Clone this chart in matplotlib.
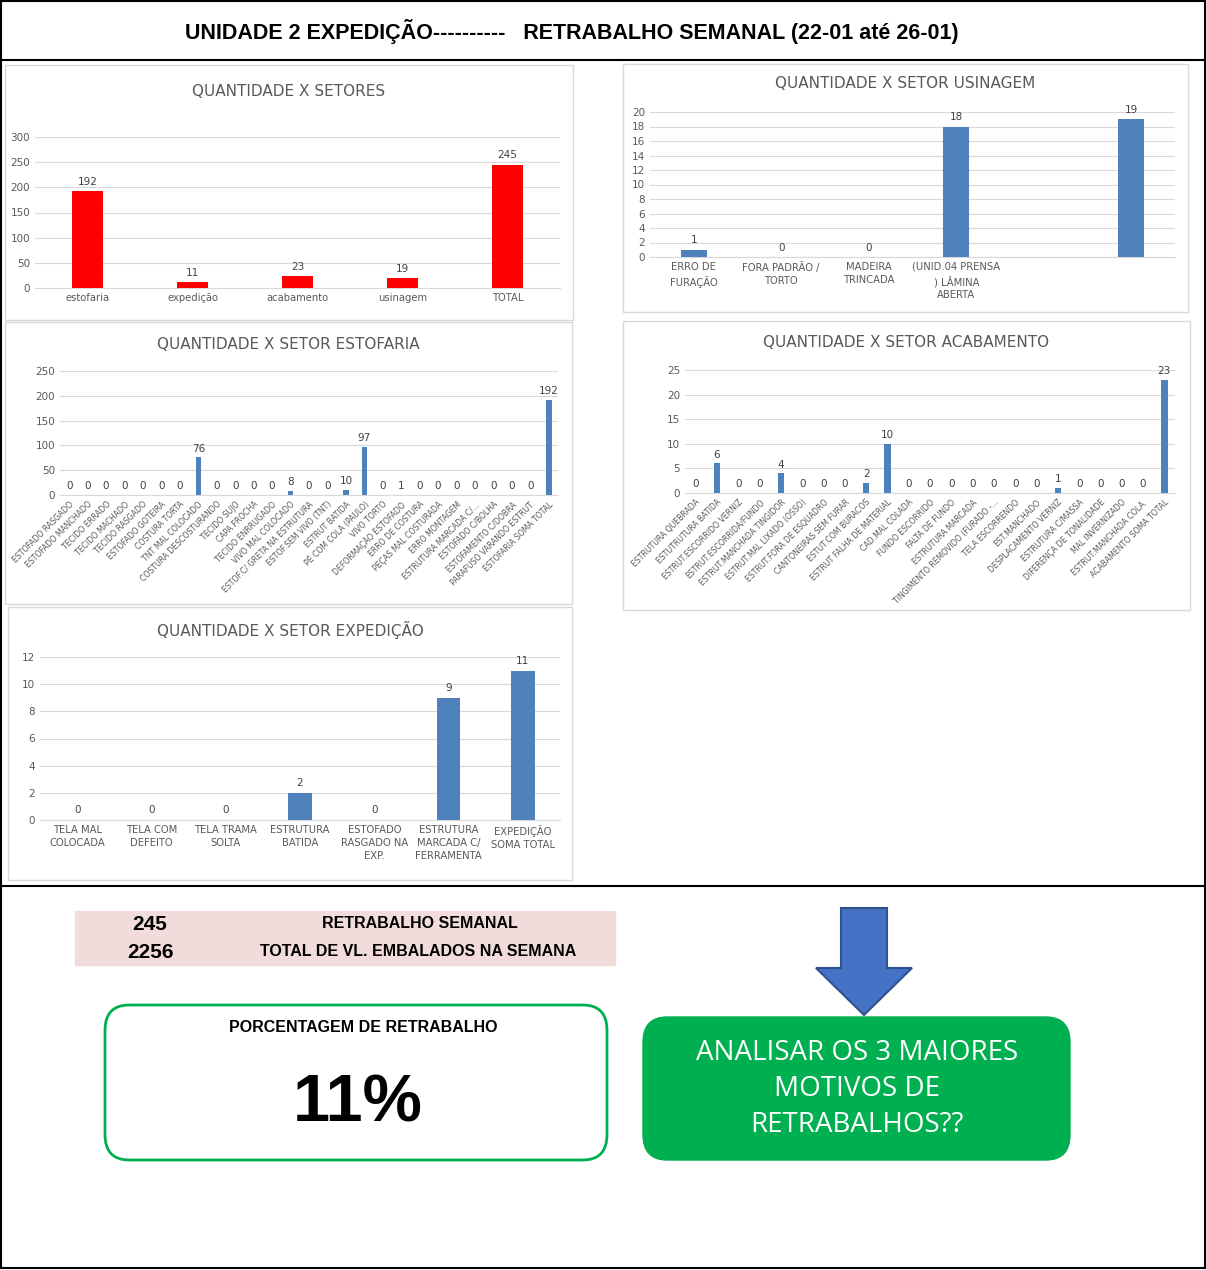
import math
import matplotlib
matplotlib.use("Agg")
import matplotlib.pyplot as plt
from matplotlib.patches import Rectangle, FancyBboxPatch, Polygon

W, H = 1206, 1270

setores = ["estofaria", "expedição", "acabamento", "usinagem", "TOTAL"]
setores_vals = [192, 11, 23, 19, 245]

# fifth slot is empty in the original sheet
usinagem = ["ERRO DE\nFURAÇÃO", "FORA PADRÃO /\nTORTO", "MADEIRA\nTRINCADA",
            "(UNID.04 PRENSA\n) LÂMINA\nABERTA", "", ""]
usinagem_vals = [1, 0, 0, 18, float("nan"), 19]

estofaria = ["ESTOFADO RASGADO", "ESTOFADO MANCHADO", "TECIDO ERRADO", "TECIDO MACHADO",
             "TECIDO RASGADO", "ESTOFADO GOTEIRA", "COSTURA TORTA", "TNT MAL COLOCADO",
             "COSTURA DESCOSTURANDO", "TECIDO SUJO", "CAPA FROCHA", "TECIDO ENRRUGADO",
             "VIVO MAL COLOCADO", "ESTOF.C/ GRETA NA ESTRUTURA", "ESTOF.SEM VIVO (TNT)",
             "ESTRUT BATIDA", "PÉ COM COLA (PAULO)", "VIVO TORTO", "DEFORMAÇÃO ESTOFADO",
             "ERRO DE COSTURA", "PEÇAS MAL COSTURADA", "ERRO MONTAGEM", "ESTRUTURA MARCADA C/...",
             "ESTOFADO C/BOLHA", "ESTOFAMENTO C/DOBRA", "PARAFUSO VARANDO ESTRUT.",
             "ESTOFARIA SOMA TOTAL"]
estofaria_vals = [0, 0, 0, 0, 0, 0, 0, 76, 0, 0, 0, 0, 8, 0, 0, 10, 97, 0, 1,
                  0, 0, 0, 0, 0, 0, 0, 192]

acabamento = ["ESTRUTURA QUEBRADA", "ESTUTRUTURA BATIDA", "ESTRUT.ESCORRIDO VERNIZ",
              "ESTRUT.ESCORRIDA/FUNDO", "ESTRUT.MANCHADA TINGIDOR", "ESTRUT.MAL LIXADO (OSSO)",
              "ESTRUT.FORA DE ESQUADRO", "CANTONEIRAS SEM FURAR", "ESTUT.COM BURACOS",
              "ESTRUT FALHA DE MATERIAL", "CAD.MAL COLADA", "FUNDO ESCORRIDO", "FALTA DE FUNDO",
              "ESTRUTURA MARCADA", "TINGIMENTO REMOVIDO (FURADO -...", "TELA ESCORRENDO",
              "EST.MANCHADO", "DESPLACAMENTO VERNIZ", "ESTRUTURA C/MASSA",
              "DIFERENÇA DE TONALIDADE", "MAL INVERNIZADO", "ESTRUT.MANCHADA COLA.",
              "ACABAMENTO SOMA TOTAL"]
acabamento_vals = [0, 6, 0, 0, 4, 0, 0, 0, 2, 10, 0, 0, 0, 0, 0, 0, 0, 1, 0, 0, 0, 0, 23]

expedicao = ["TELA MAL\nCOLOCADA", "TELA COM\nDEFEITO", "TELA TRAMA\nSOLTA", "ESTRUTURA\nBATIDA",
             "ESTOFADO\nRASGADO NA\nEXP.", "ESTRUTURA\nMARCADA C/\nFERRAMENTA", "EXPEDIÇÃO\nSOMA TOTAL"]
expedicao_vals = [0, 0, 0, 2, 0, 9, 11]

retrabalho = 245
embalados = 2256

TXT = "#595959"
BLUE = "#4f81bd"
plt.rcParams['font.family'] = ['DejaVu Sans']

fig = plt.figure(figsize=(W / 100, H / 100), dpi=100)


def ax_px(x0, y0, x1, y1):
    return fig.add_axes([x0 / W, 1 - y1 / H, (x1 - x0) / W, (y1 - y0) / H])


def box_px(x0, y0, x1, y1, ec="#d9d9d9", lw=1):
    fig.patches.append(Rectangle((x0 / W, 1 - y1 / H), (x1 - x0) / W, (y1 - y0) / H,
                                 transform=fig.transFigure, fill=False, ec=ec, lw=lw))


def chart(panel, plot, title, ty, cats, vals, ymax, step, color, width,
          rot=0, lfs=7.2, vfs=7.5):
    box_px(*panel)
    fig.text((panel[0] + panel[2]) / 2 / W, 1 - ty / H, title, ha="center", va="center",
             fontsize=11, color=TXT)
    ax = ax_px(*plot)
    x = range(len(vals))
    bars = ax.bar(x, vals, width=width, color=color, zorder=3)
    for b, v in zip(bars, vals):
        if math.isnan(v):
            continue
        ax.text(b.get_x() + b.get_width() / 2, v + ymax * 0.03, str(v), ha="center",
                va="bottom", fontsize=vfs, color="#404040")
    ax.set_ylim(0, ymax)
    ax.set_yticks(range(0, ymax + 1, step))
    ax.set_xlim(-0.5, len(vals) - 0.5)
    ax.grid(axis="y", color="#d9d9d9", lw=0.8, zorder=0)
    for s in ax.spines.values():
        s.set_visible(False)
    ax.spines["bottom"].set_visible(True)
    ax.spines["bottom"].set_color("#d9d9d9")
    ax.tick_params(length=0, labelsize=7.5, colors=TXT)
    ax.set_xticks(list(x))
    if rot:
        ax.set_xticklabels(cats, rotation=rot, ha="right", rotation_mode="anchor",
                           fontsize=5.6)
    else:
        ax.set_xticklabels(cats, fontsize=lfs, linespacing=1.4, va="top")
    return ax


chart((5, 65, 573, 320), (35, 137, 560, 288), "QUANTIDADE X SETORES", 91,
      setores, setores_vals, 300, 50, "#ff0000", 0.3)
chart((623, 64, 1188, 312), (650, 112, 1175, 257), "QUANTIDADE X SETOR USINAGEM", 84,
      usinagem, usinagem_vals, 20, 2, BLUE, 0.3)
chart((5, 322, 572, 604), (60, 371, 558, 495), "QUANTIDADE X SETOR ESTOFARIA", 344,
      estofaria, estofaria_vals, 250, 50, BLUE, 0.3, rot=45)
chart((623, 321, 1190, 610), (685, 370, 1175, 493), "QUANTIDADE X SETOR ACABAMENTO", 343,
      acabamento, acabamento_vals, 25, 5, BLUE, 0.3, rot=45)
chart((8, 607, 572, 880), (40, 657, 560, 820), "QUANTIDADE X SETOR EXPEDIÇÃO", 630,
      expedicao, expedicao_vals, 12, 2, BLUE, 0.32)

# frame and separators
box_px(1, 1, 1205, 1268, ec="black", lw=1.5)
fig.add_artist(plt.Line2D([0, 1], [1 - 60 / H] * 2, color="black", lw=1.5))
fig.add_artist(plt.Line2D([0, 1], [1 - 886 / H] * 2, color="black", lw=1.5))
fig.text(572 / W, 1 - 31 / H, "UNIDADE 2 EXPEDIÇÃO----------   RETRABALHO SEMANAL (22-01 até 26-01)",
         ha="center", va="center", fontsize=15.5, fontweight="bold", family="Liberation Sans")

# summary band
fig.patches.append(Rectangle((75 / W, 1 - 965 / H), 540 / W, 54 / H, transform=fig.transFigure,
                             color="#f2dcdb"))
fig.text(150 / W, 1 - 925 / H, str(retrabalho), ha="center", va="center", fontsize=15,
         fontweight="bold", family="Liberation Sans")
fig.text(150 / W, 1 - 952 / H, str(embalados), ha="center", va="center", fontsize=15,
         fontweight="bold", family="Liberation Sans")
fig.text(420 / W, 1 - 924 / H, "RETRABALHO SEMANAL", ha="center", va="center", fontsize=11.5,
         fontweight="bold", family="Liberation Sans")
fig.text(418 / W, 1 - 951 / H, "TOTAL DE VL. EMBALADOS NA SEMANA", ha="center", va="center",
         fontsize=11.5, fontweight="bold", family="Liberation Sans")

# percentage box
fig.patches.append(FancyBboxPatch((105 / W, 1 - 1160 / H), 502 / W, 155 / H,
                                  boxstyle="round,pad=0,rounding_size=0.02",
                                  transform=fig.transFigure, fc="white", ec="#00b050", lw=2))
fig.text(363 / W, 1 - 1027 / H, "PORCENTAGEM DE RETRABALHO", ha="center", va="center",
         fontsize=11.5, fontweight="bold", family="Liberation Sans")
fig.text(358 / W, 1 - 1105 / H, f"{round(retrabalho / embalados * 100)}%", ha="center",
         va="center", fontsize=48, fontweight="bold", family="Liberation Sans")

# green box
fig.patches.append(FancyBboxPatch((643 / W, 1 - 1160 / H), 427 / W, 143 / H,
                                  boxstyle="round,pad=0,rounding_size=0.02",
                                  transform=fig.transFigure, fc="#00b050", ec="#00b050"))
fig.text(857 / W, 1 - 1089 / H, "ANALISAR OS 3 MAIORES\nMOTIVOS DE\nRETRABALHOS??",
         ha="center", va="center", fontsize=20, color="white", linespacing=1.4,
         family="Open Sans")

# arrow
pts = [(841, 908), (887, 908), (887, 968), (912, 968), (864, 1015), (816, 968), (841, 968)]
fig.patches.append(Polygon([(x / W, 1 - y / H) for x, y in pts], closed=True,
                           transform=fig.transFigure, fc="#4472c4", ec="#2f528f", lw=1.5))

fig.savefig("out.png", dpi=100)
